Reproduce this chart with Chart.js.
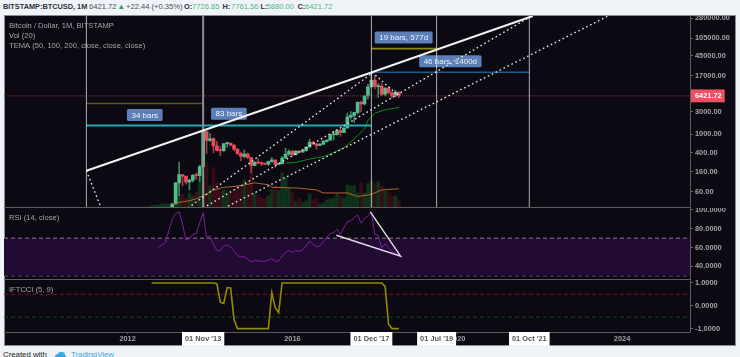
<!DOCTYPE html>
<html>
<head>
<meta charset="utf-8">
<title>BTCUSD 1M</title>
<style>
  html, body { margin: 0; height: 357px; overflow: hidden; background: #f0f3f7; font-family: "Liberation Sans", Arial, sans-serif; }
  #header span, #header b { position: absolute; top: 2px; font-size: 7.6px; line-height: 10px; color: #4a4f57; white-space: nowrap; }
  #header b { color: #2f333a; font-size: 7.35px; }
  #header .up { color: #4fb583; }
  #header .tri { color: #2e9e5b; }
  #panes { position: absolute; left: 4px; top: 15px; width: 732px; height: 331px; background: #0d0912; box-shadow: 0 0 0 1px #8a8d92 inset; filter: blur(0.3px); }
  canvas { position: absolute; left: 0; display: block; }
  #footer { position: absolute; left: 3px; top: 350px; font-size: 7.8px; line-height: 10px; color: #222; white-space: nowrap; }
  #footer span { position: absolute; left: 68px; top: 0; color: #3ba5e6; }
  #footer svg { position: absolute; left: 50px; top: 1px; }
</style>
<script src="https://cdn.jsdelivr.net/npm/chart.js@4/dist/chart.umd.min.js"></script>
</head>
<body>
<div id="header">
  <b style="left:3px">BITSTAMP:BTCUSD, 1M</b>
  <span style="left:89px">6421.72</span>
  <span class="tri" style="left:117.5px">▲</span>
  <span style="left:126px">+22.44 (+0.35%)</span>
  <b style="left:184px">O:</b><span class="up" style="left:192px">7726.85</span>
  <b style="left:222.5px">H:</b><span class="up" style="left:231px">7761.56</span>
  <b style="left:260.5px">L:</b><span class="up" style="left:266.5px">5880.00</span>
  <b style="left:297.5px">C:</b><span class="up" style="left:305px">6421.72</span>
</div>
<div id="panes">
  <canvas id="priceChart" width="732" height="192" style="top:1px"></canvas>
  <canvas id="rsiChart" width="732" height="72" style="top:193px"></canvas>
  <canvas id="iftChart" width="732" height="66" style="top:265px"></canvas>
</div>
<div id="footer">Created with
  <svg width="14" height="8" viewBox="0 0 14 8"><path d="M1 8 Q2 3 5 3 Q6 0 9 1 Q12 1 12 4 Q14 5 13 8 Z" fill="#3ba5e6"/></svg>
  <span>TradingView</span></div>
<script>
// x axis is months counted from Jan 2012
const xMin = -36;
const xMax = 163.8;

const priceTicks = [280000, 105000, 45000, 17000, 6421.72, 3000, 1000, 400, 160, 60];
const rsiTicks = [100, 80, 60, 40];
const iftTicks = [1, 0, -1];
const timeTickMonths = [0, 48, 96, 144, 22, 71, 90, 117];
const timeTickLabels = ['2012', '2016', '2020', '2024', "01 Nov '13", "01 Dec '17", "01 Jul '19", "01 Oct '21"];

// monthly candles, Jan 2013 to Aug 2018
const candleStart = 12;
const opens = [13.5, 20.4, 33.4, 93, 139, 129, 97, 106, 135, 133, 204, 1130,
  732, 800, 565, 450, 447, 628, 640, 585, 480, 388, 338, 378,
  320, 217, 254, 244, 236, 230, 263, 284, 230, 236, 311, 377,
  430, 368, 437, 416, 448, 530, 673, 624, 575, 608, 700, 745,
  966, 970, 1190, 1080, 1345, 2300, 2480, 2860, 4715, 4340, 6440, 9950,
  13800, 10100, 10300, 6930, 9240, 7500, 6390, 7726.85];
const highs = [20.4, 33.8, 95, 256, 140, 130, 112, 140, 150, 220, 1163, 1163,
  1022, 840, 700, 545, 630, 680, 660, 600, 495, 415, 460, 400,
  320, 265, 300, 260, 247, 268, 320, 285, 248, 335, 500, 465,
  462, 448, 443, 470, 540, 780, 700, 627, 640, 740, 755, 980,
  1150, 1215, 1290, 1355, 2790, 2999, 2915, 4750, 4980, 6450, 11300, 19666,
  17180, 11780, 11700, 9750, 10000, 7770, 8500, 7761.56];
const lows = [12.9, 19, 33, 50, 80, 87, 66, 97, 110, 100, 195, 383,
  700, 400, 440, 350, 430, 530, 560, 440, 365, 275, 315, 300,
  152, 212, 235, 214, 228, 218, 253, 198, 225, 235, 308, 350,
  351, 363, 395, 415, 436, 530, 600, 480, 570, 605, 680, 735,
  750, 950, 890, 1080, 1345, 2076, 1760, 2670, 2970, 4100, 5560, 9950,
  9000, 5880, 6450, 6430, 7000, 5750, 6100, 5880];
const closes = [20.4, 33.4, 93, 139, 129, 97, 106, 135, 133, 204, 1130, 732,
  800, 565, 450, 447, 628, 640, 585, 480, 388, 338, 378, 320,
  217, 254, 244, 236, 230, 263, 284, 230, 236, 311, 377, 430,
  368, 437, 416, 448, 530, 673, 624, 575, 608, 700, 745, 966,
  970, 1190, 1080, 1345, 2300, 2480, 2860, 4715, 4340, 6440, 9950, 13800,
  10100, 10300, 6930, 9240, 7500, 6390, 7730, 6421.72];

// volume heights from May 2012 on, in thousand BTC (rough read)
const volumeStart = 4;
const volumes = [1, 1, 1, 2, 3, 3, 4, 4,
  4, 4, 25, 13, 14, 10, 15, 12, 16, 27, 33, 45,
  22, 40, 25, 16, 18, 15, 15, 18, 22, 23, 28, 27,
  43, 15, 13, 10, 9, 12, 18, 23, 17, 35, 30, 20,
  15, 6, 10, 5, 7, 14, 8, 9, 4, 5, 8, 9,
  10, 14, 12, 10, 23, 22, 22, 15, 25, 15, 24, 27,
  24, 26, 22, 17, 15, 12, 12, 8];

const temaSlowMonths = [13, 15, 18, 20, 23, 25, 28, 31, 34, 37, 41, 42, 45, 50, 55, 57, 64, 67, 71, 74, 79];
const temaSlowValues = [33, 36, 39, 43, 54, 66, 75, 78, 84, 93, 85, 75, 74, 72, 66, 57, 57, 48, 53, 66, 70];
const temaFastMonths = [46, 49, 53, 57, 59, 63, 66, 69, 70, 72, 75, 79];
const temaFastValues = [244, 252, 297, 332, 379, 508, 790, 1288, 1933, 2760, 3265, 3656];

const rsiStart = 9;
const rsiValues = [60, 63, 65, 78, 90, 96, 98, 85, 68, 69.5, 74, 75, 86.5, 97, 71,
  72.4, 63.5, 57, 57, 61.7, 62.8, 61, 56.4, 51.8, 50, 50.4, 47.5,
  44.7, 46.5, 45.8, 45.4, 45.4, 46.5, 48.3, 45.4, 45.8, 51, 54.6, 57,
  54.6, 56.8, 56, 57.5, 61.7, 67, 63.5, 60.7, 61.7, 66.3, 70.6, 75,
  75.6, 79.5, 74, 81, 87.6, 88.3, 91.9, 94.7, 85.8, 91, 93.6, 97.9,
  73.7, 73, 59.6, 64, 59.6, 56, 54, 51.4];

const iftStart = 7;
const iftValues = [1, 1, 1, 1, 1, 1, 1, 1, 1, 1, 1, 1, 1, 1, 1, 1, 1, 1, 1,
  0.97, 0.16, 0.1, 0.8, 0.78, -0.6, -1, -1, -1, -1, -1, -1, -1, -1, -1, -1,
  0.57, -0.08, -0.3, 1, 1, 1, 1, 1, 1, 1, 1, 1, 1, 1, 1, 1, 1, 1, 1, 1, 1,
  1, 1, 1, 1, 1, 1, 1, 1, 1, 1, 1, 1, 0.85, -0.8, -1, -1, -1];

// drawings on the price pane, as [month, price]
const trendLine = [[-12, 167.5], [71.2, 20300], [118, 313000]];
const dottedLines = [
  [[17.6, 27.4], [71.2, 19270]],
  [[22, 27.4], [117.2, 298500]],
  [[28.1, 27.4], [140, 313000]],
  [[-12, 167.5], [-7.7, 27.4]],
  [[71.2, 20300], [78.8, 6570]]
];
const verticalMonths = [-12, 22, 71, 90, 117];
const rangeLines = [
  { from: -12, to: 22, price: 4443, color: '#5d5a14', width: 1.6 },
  { from: -12, to: 71, price: 1514, color: '#23aab4', width: 2 },
  { from: 71, to: 90, price: 63860, color: '#8c8a10', width: 1.6 },
  { from: 71, to: 117, price: 20300, color: '#1e5b8e', width: 1.6 }
];
const noteTexts = ['34 bars', '83 bars', '19 bars, 577d', '46 bars, 1400d'];
const noteMonths = [5, 29.5, 80.4, 94];
const notePrices = [2530, 2685, 109400, 34670];

const rsiTriangle = [[60.8, 73.1], [79.5, 50.9], [70.7, 97.9], [79.5, 50.9]];

const lastPrice = 6421.72;
const upColor = '#55bd8c';
const downColor = '#ec4d5c';
const upWick = '#3c8a66';
const downWick = '#a83a48';
const axisColor = '#a3a3a3';
const fontName = '"Liberation Sans", Arial, sans-serif';

function toPoints(xs, ys) {
    return xs.map((x, i) => ({ x: x, y: ys[i] }));
}

function seriesPoints(start, values) {
    return values.map((v, i) => ({ x: start + i, y: v }));
}

function pairPoints(pairs) {
    return pairs.map(p => ({ x: p[0], y: p[1] }));
}

function lineSet(points, color, width, order, extra) {
    return Object.assign({
        type: 'line',
        data: points,
        borderColor: color,
        borderWidth: width,
        pointRadius: 0,
        fill: false,
        tension: 0,
        order: order
    }, extra || {});
}

function horizontal(value) {
    return [{ x: xMin, y: value }, { x: xMax, y: value }];
}

// y axis shared by the three panes, fixed width so the plots line up
function valueAxis(extra, ticks, digits) {
    return Object.assign({
        position: 'right',
        bounds: 'data',
        grid: { display: true, drawOnChartArea: false, drawTicks: true, tickLength: 3, tickColor: '#666' },
        border: { display: true, color: '#5c5c5c' },
        ticks: {
            padding: 2,
            color: (c) => (c.tick.value === lastPrice ? '#fff' : axisColor),
            font: { family: fontName, size: 7.4, weight: 'bold' },
            autoSkip: false,
            maxRotation: 0,
            showLabelBackdrop: (c) => c.tick.value === lastPrice,
            backdropColor: '#ef5062',
            backdropPadding: { left: 4, right: 3, top: 2, bottom: 2 },
            callback: (v) => Number(v).toFixed(digits)
        },
        afterBuildTicks: (scale) => { scale.ticks = ticks.map(v => ({ value: v })); },
        afterFit: (scale) => {
            scale.width = 46;
            scale.paddingTop = 0;
            scale.paddingBottom = 0;
        }
    }, extra);
}

function hiddenTimeAxis() {
    return { type: 'linear', min: xMin, max: xMax, bounds: 'data', offset: false, display: false };
}

function paneTitlePlugin(titles) {
    return {
        id: 'paneTitles',
        afterDraw(chart) {
            const ctx = chart.ctx;
            ctx.save();
            ctx.fillStyle = '#a5a5a5';
            ctx.font = '7.6px ' + fontName;
            ctx.textBaseline = 'middle';
            titles.forEach((t, i) => ctx.fillText(t, 5, 10 + i * 10.2));
            ctx.restore();
        }
    };
}

const paneSeparator = {
    id: 'paneSeparator',
    afterDraw(chart) {
        const ctx = chart.ctx;
        ctx.save();
        ctx.fillStyle = '#5c5c5c';
        ctx.fillRect(0, chart.chartArea.bottom - 1, 686, 1);
        ctx.restore();
    }
};

// blue bar count notes sit behind the drawings
const notesPlugin = {
    id: 'barNotes',
    beforeDatasetsDraw(chart) {
        const ctx = chart.ctx;
        const xs = chart.scales.x;
        const ys = chart.scales.y;
        ctx.save();
        ctx.font = '8px ' + fontName;
        ctx.textAlign = 'center';
        ctx.textBaseline = 'middle';
        noteTexts.forEach((text, i) => {
            const cx = xs.getPixelForValue(noteMonths[i]);
            const cy = ys.getPixelForValue(notePrices[i]);
            const w = ctx.measureText(text).width + 9;
            ctx.fillStyle = '#5b7fb6';
            ctx.beginPath();
            ctx.roundRect(cx - w / 2, cy - 6, w, 12, 1.5);
            ctx.fill();
            ctx.fillStyle = '#eef2f8';
            ctx.fillText(text, cx, cy + 0.5);
        });
        ctx.restore();
    }
};

function baseOptions(scales) {
    return {
        responsive: false,
        animation: false,
        events: [],
        layout: { padding: 0 },
        plugins: { legend: { display: false }, tooltip: { enabled: false } },
        scales: scales
    };
}

function initializePriceChart() {
    const candleMonths = opens.map((_, i) => candleStart + i);
    const candleColors = opens.map((o, i) => (closes[i] >= o ? upColor : downColor));
    const wickColors = opens.map((o, i) => (closes[i] >= o ? upWick : downWick));
    const volumeColors = volumes.map((_, i) => {
        const k = volumeStart + i - candleStart;
        const up = k < 0 || closes[k] >= opens[k];
        return up ? '#0f3319' : '#360d17';
    });

    const datasets = [
        {
            type: 'bar',
            data: volumes.map((v, i) => ({ x: volumeStart + i, y: v })),
            yAxisID: 'volume',
            backgroundColor: volumeColors,
            barThickness: 3,
            grouped: false,
            order: 20
        },
        {
            type: 'bar',
            data: candleMonths.map((m, i) => ({ x: m, y: [lows[i], highs[i]] })),
            yAxisID: 'y',
            backgroundColor: wickColors,
            barThickness: 1,
            grouped: false,
            order: 19
        },
        {
            type: 'bar',
            data: candleMonths.map((m, i) => ({ x: m, y: [opens[i], closes[i]] })),
            yAxisID: 'y',
            backgroundColor: candleColors,
            barThickness: 3,
            grouped: false,
            minBarLength: 1,
            order: 18
        },
        lineSet(toPoints(temaSlowMonths, temaSlowValues), '#b0672d', 1, 10),
        lineSet(toPoints(temaFastMonths, temaFastValues), '#0a8c14', 1, 10),
        lineSet(horizontal(lastPrice), '#8c3044', 1, 9, { borderDash: [1, 1] }),
        lineSet(pairPoints(trendLine), '#f2f2f2', 2, 2)
    ];

    rangeLines.forEach(r => {
        datasets.push(lineSet([{ x: r.from, y: r.price }, { x: r.to, y: r.price }], r.color, r.width, 6));
    });
    verticalMonths.forEach(m => {
        const wide = m === 22;
        datasets.push(lineSet([{ x: m, y: 27.4 }, { x: m, y: 313000 }],
            wide ? '#8f8f8f' : 'rgba(235,235,235,0.72)', wide ? 2 : 1, 5));
    });
    dottedLines.forEach(d => {
        datasets.push(lineSet(pairPoints(d), '#e2e2e2', 1.4, 3, { borderDash: [1.6, 2.8] }));
    });

    new Chart(document.getElementById('priceChart').getContext('2d'), {
        data: { datasets: datasets },
        options: baseOptions({
            x: hiddenTimeAxis(),
            y: valueAxis({ type: 'logarithmic', min: 27.4, max: 313000 }, priceTicks, 2),
            volume: { type: 'linear', display: false, min: 0, max: 191, bounds: 'data' }
        }),
        plugins: [notesPlugin, paneSeparator,
            paneTitlePlugin(['Bitcoin / Dollar, 1M, BITSTAMP', 'Vol (20)', 'TEMA (50, 100, 200, close, close, close)'])]
    });
}

function initializeRsiChart() {
    const bandLine = '#8b7b9b';
    new Chart(document.getElementById('rsiChart').getContext('2d'), {
        data: {
            datasets: [
                lineSet(horizontal(70), bandLine, 1, 9, { borderDash: [4, 3], fill: { value: 30 }, backgroundColor: '#220b33' }),
                lineSet(horizontal(30), bandLine, 1, 9, { borderDash: [4, 3] }),
                lineSet(seriesPoints(rsiStart, rsiValues), '#7d1f9c', 1, 5),
                lineSet(pairPoints(rsiTriangle), '#e2dcea', 1.4, 2)
            ]
        },
        options: baseOptions({
            x: hiddenTimeAxis(),
            y: valueAxis({ type: 'linear', min: 25.6, max: 102 }, rsiTicks, 4)
        }),
        plugins: [paneSeparator, paneTitlePlugin(['RSI (14, close)'])]
    });
}

function initializeIftChart() {
    new Chart(document.getElementById('iftChart').getContext('2d'), {
        data: {
            datasets: [
                lineSet(horizontal(0.5), '#7c0f1c', 1, 9, { borderDash: [4, 3] }),
                lineSet(horizontal(-0.5), '#0d4d17', 1, 9, { borderDash: [4, 3] }),
                lineSet(seriesPoints(iftStart, iftValues), '#8f8b06', 1.6, 5)
            ]
        },
        options: baseOptions({
            x: {
                type: 'linear',
                min: xMin,
                max: xMax,
                bounds: 'data',
                position: 'bottom',
                grid: { display: true, drawOnChartArea: false, tickLength: 2, tickColor: '#666' },
                border: { display: true, color: '#5c5c5c' },
                ticks: {
                    autoSkip: false,
                    maxRotation: 0,
                    padding: 1,
                    color: (c) => (c.tick.value % 48 === 0 ? axisColor : '#555'),
                    font: { family: fontName, size: 7.4, weight: 'bold' },
                    showLabelBackdrop: (c) => c.tick.value % 48 !== 0,
                    backdropColor: '#ffffff',
                    backdropPadding: { left: 3, right: 3, top: 3, bottom: 2 },
                    callback: (v) => timeTickLabels[timeTickMonths.indexOf(v)]
                },
                afterBuildTicks: (scale) => { scale.ticks = timeTickMonths.map(v => ({ value: v })); },
                afterFit: (scale) => {
                    scale.height = 14;
                    scale.paddingLeft = 0;
                    scale.paddingRight = 0;
                }
            },
            y: valueAxis({ type: 'linear', min: -1.15, max: 1.13 }, iftTicks, 4)
        }),
        plugins: [paneTitlePlugin(['IFTCCI (5, 9)'])]
    });
}

document.addEventListener('DOMContentLoaded', function() {
    initializePriceChart();
    initializeRsiChart();
    initializeIftChart();
});
</script>
</body>
</html>
